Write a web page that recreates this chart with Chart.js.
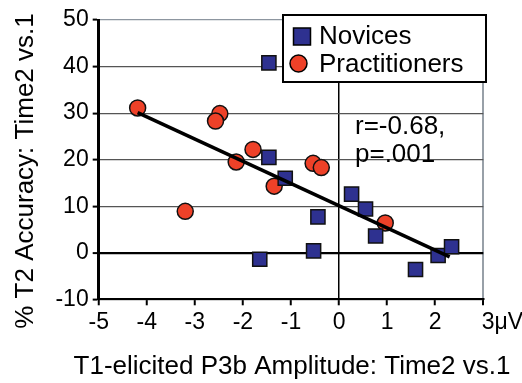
<!DOCTYPE html>
<html>
<head>
<meta charset="utf-8">
<script src="https://cdn.jsdelivr.net/npm/chart.js@4/dist/chart.umd.min.js"></script>
<style>
  html, body { margin: 0; padding: 0; background: #ffffff; }
  canvas { display: block; }
</style>
</head>
<body>
<canvas id="c" width="522" height="383"></canvas>
<script>
// ---- data ----
const novicesX = [-1.46, -1.46, -1.12, -0.44, -0.53, -1.65, 0.26, 0.55, 0.76, 1.59, 2.06, 2.34];
const novicesY = [40.8, 20.5, 16.0, 7.7, 0.4, -1.4, 12.6, 9.4, 3.6, -3.6, -0.6, 1.3];
const practX = [-4.19, -2.48, -2.57, -1.79, -2.14, -0.54, -0.37, -1.35, -3.20, 0.96];
const practY = [31.1, 29.9, 28.3, 22.2, 19.5, 19.2, 18.3, 14.3, 8.9, 6.4];
const trendX = [-4.19, 2.30];
const trendY = [30.1, -0.9];
const xTicks = [-5, -4, -3, -2, -1, 0, 1, 2, 3];
const xTickLabels = ['-5', '-4', '-3', '-2', '-1', '0', '1', '2', '3μV'];
const yTicks = [-10, 0, 10, 20, 30, 40, 50];
const seriesNames = ['Novices', 'Practitioners'];
const xTitle = 'T1-elicited P3b Amplitude: Time2 vs.1';
const yTitle = '% T2 Accuracy: Time2 vs.1';
const statLines = ['r=-0.68,', 'p=.001'];

const BLUE = '#2e3190';
const RED = '#ee4128';
const FONT = '"Liberation Sans", Arial, sans-serif';

const toPts = (xs, ys) => xs.map((x, i) => ({ x: x, y: ys[i] }));

const overlay = {
  id: 'overlay',
  afterDatasetsDraw(chart) {
    const ctx = chart.ctx;
    ctx.save();
    ctx.fillStyle = '#000';
    ctx.font = '26px ' + FONT;
    ctx.textAlign = 'left';
    ctx.textBaseline = 'middle';
    ctx.fillText(statLines[0], 355, 127);
    ctx.fillText(statLines[1], 355, 155);
    // legend box
    ctx.fillStyle = '#fff';
    ctx.fillRect(283, 15, 203, 67);
    ctx.strokeStyle = '#000';
    ctx.lineWidth = 2;
    ctx.strokeRect(283, 15, 203, 67);
    // legend markers
    ctx.lineWidth = 1.5;
    ctx.fillStyle = BLUE;
    ctx.fillRect(293.5, 28, 17, 17);
    ctx.strokeRect(293.5, 28, 17, 17);
    ctx.beginPath();
    ctx.arc(298.5, 63.5, 8.5, 0, Math.PI * 2);
    ctx.fillStyle = RED;
    ctx.fill();
    ctx.stroke();
    ctx.fillStyle = '#000';
    ctx.font = '26px ' + FONT;
    ctx.fillText(seriesNames[0], 319, 37);
    ctx.fillText(seriesNames[1], 319, 65);
    // axis titles
    ctx.textAlign = 'center';
    ctx.fillText(xTitle, 292, 367);
    ctx.translate(26, 171);
    ctx.rotate(-Math.PI / 2);
    ctx.fillText(yTitle, 0, 0);
    ctx.restore();
  }
};

new Chart(document.getElementById('c'), {
  type: 'scatter',
  data: {
    datasets: [
      {
        type: 'line',
        label: 'trend',
        data: toPts(trendX, trendY),
        borderColor: '#000',
        borderWidth: 3.5,
        pointRadius: 0,
        fill: false,
        order: 0
      },
      {
        label: seriesNames[0],
        data: toPts(novicesX, novicesY),
        pointStyle: 'rect',
        pointRadius: 10,
        backgroundColor: BLUE,
        borderColor: '#111',
        borderWidth: 1.5,
        order: 1
      },
      {
        label: seriesNames[1],
        data: toPts(practX, practY),
        pointStyle: 'circle',
        pointRadius: 8,
        backgroundColor: RED,
        borderColor: '#111',
        borderWidth: 1.5,
        order: 2
      }
    ]
  },
  options: {
    responsive: false,
    animation: false,
    devicePixelRatio: 1,
    layout: { padding: { top: 20, right: 38.7, left: 0, bottom: 0 } },
    plugins: { legend: { display: false }, tooltip: { enabled: false } },
    scales: {
      x: {
        type: 'linear',
        min: -5, max: 3,
        afterBuildTicks: s => { s.ticks = xTicks.map(v => ({ value: v })); },
        afterFit: s => { s.height = 83.7; s.paddingLeft = 0; s.paddingRight = 0; },
        ticks: {
          autoSkip: false, maxRotation: 0, minRotation: 0,
          color: '#000', padding: 4,
          font: { family: FONT, size: 23 },
          callback: v => {
            const l = xTickLabels[xTicks.indexOf(v)];
            return l.length > 2 ? '\u2007\u2007\u2007' + l : l;
          }
        },
        grid: {
          color: c => c.tick && c.tick.value === 0 ? '#000' : (c.tick && c.tick.value === 3 ? '#98a0a8' : 'rgba(0,0,0,0)'),
          lineWidth: c => c.tick && c.tick.value === 3 ? 2 : 1.5,
          tickColor: '#000', tickWidth: 2, tickLength: 6
        },
        border: { color: '#000', width: 2 }
      },
      y: {
        type: 'linear',
        min: -10, max: 50,
        afterBuildTicks: s => { s.ticks = yTicks.map(v => ({ value: v })); },
        afterFit: s => { s.width = 98.7; s.paddingTop = 0; s.paddingBottom = 0; },
        ticks: {
          color: '#000', padding: 4,
          font: { family: FONT, size: 23 }
        },
        grid: {
          color: c => c.tick && c.tick.value === 0 ? '#000' : (c.tick && c.tick.value === 50 ? '#8d96a0' : '#555'),
          lineWidth: c => c.tick && c.tick.value === 0 ? 2.2 : 1.2,
          tickColor: '#000', tickWidth: 2, tickLength: 6
        },
        border: { color: '#000', width: 3 }
      }
    }
  },
  plugins: [overlay]
});
</script>
</body>
</html>
